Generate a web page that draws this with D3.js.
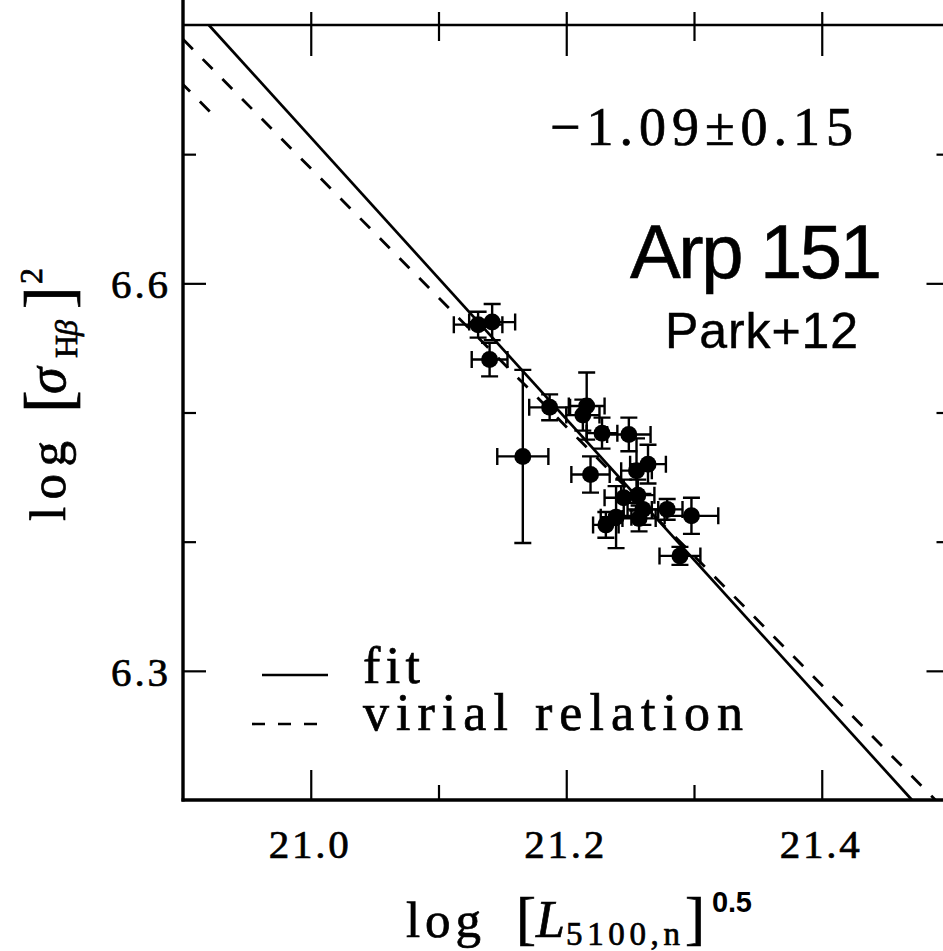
<!DOCTYPE html>
<html><head><meta charset="utf-8">
<script src="https://cdn.jsdelivr.net/npm/d3@7"></script>
<style>body{margin:0;background:#fff}svg{display:block}</style>
</head><body>
<script>
// ---- data ----
const logL   = [21.131,21.142,21.140,21.166,21.187,21.216,21.213,21.228,21.249,21.219,21.255,21.264,21.245,21.256,21.260,21.257,21.239,21.231,21.279,21.298,21.289];
const logS   = [6.568,6.570,6.541,6.466,6.504,6.505,6.498,6.484,6.483,6.452,6.455,6.460,6.434,6.436,6.425,6.418,6.419,6.413,6.425,6.420,6.389];
const errL   = [0.019,0.018,0.014,0.020,0.016,0.014,0.013,0.012,0.017,0.015,0.012,0.014,0.015,0.013,0.012,0.013,0.012,0.010,0.012,0.021,0.016];
const errS   = [0.010,0.014,0.013,0.067,0.010,0.026,0.012,0.012,0.013,0.014,0.025,0.015,0.014,0.012,0.012,0.010,0.024,0.010,0.008,0.014,0.007];
const xMajor = [21.0,21.2,21.4];
const xMinor = [21.1,21.3];
const yMajor = [6.3,6.6];
const yMinor = [6.4,6.5,6.7];
const xTickLabels = ["21.0","21.2","21.4"];
const yTickLabels = ["6.3","6.6"];
const fitSlope = -1.09, fitPivotX = 21.2, fitPivotY = 6.495;
const virSlope = -1.0, virPivotX = 20.9, virPivotY = 6.789;
const vir2PivotY = 6.754, vir2EndX = 20.9235;
const slopeText = "\u22121.09\u00b10.15";

const W = 943, H = 951;
const svg = d3.select("body").append("svg").attr("width",W).attr("height",H);
const x = d3.scaleLinear().domain([20.9,21.5]).range([183,949.5]);
const y = d3.scaleLinear().domain([6.2,6.8]).range([800,25]);
const serif = "'Liberation Serif', serif", sans = "'Liberation Sans', Arial, sans-serif";
const TS = 0.7; // text stroke for weight

// lines
function lineEnds(slope, px, py, x0, x1){
  const f = v => py + slope*(v-px);
  let a = x0, b = x1;
  const [ymin,ymax] = y.domain();
  if (f(a) > ymax) a = px + (ymax-py)/slope;
  if (f(b) < ymin) b = px + (ymin-py)/slope;
  return [[a,f(a)],[b,f(b)]];
}
const ln = d3.line().x(d=>x(d[0])).y(d=>y(d[1]));
svg.append("path").attr("d", ln(lineEnds(fitSlope,fitPivotX,fitPivotY,20.9,21.5)))
  .attr("stroke","#000").attr("stroke-width",2.7).attr("fill","none");
svg.append("path").attr("d", ln(lineEnds(virSlope,virPivotX,virPivotY,20.9,21.5)))
  .attr("stroke","#000").attr("stroke-width",2.8).attr("fill","none").attr("stroke-dasharray","14 14");
svg.append("path").attr("d", ln(lineEnds(virSlope,virPivotX,vir2PivotY,20.9,vir2EndX)))
  .attr("stroke","#000").attr("stroke-width",2.8).attr("fill","none").attr("stroke-dasharray","14 14").attr("stroke-dashoffset",4);

// error bars
const pts = logL.map((v,i)=>({x:v,y:logS[i],ex:errL[i],ey:errS[i]}));
const eb = svg.append("g").attr("stroke","#000").attr("stroke-width",2.4).attr("fill","none");
const cap = 8.5;
pts.forEach(p=>{
  const cx=x(p.x), cy=y(p.y), xl=x(p.x-p.ex), xr=x(p.x+p.ex), yt=y(p.y+p.ey), yb=y(p.y-p.ey);
  eb.append("path").attr("d",`M${xl},${cy}H${xr}M${xl},${cy-cap}V${cy+cap}M${xr},${cy-cap}V${cy+cap}M${cx},${yt}V${yb}M${cx-cap},${yt}H${cx+cap}M${cx-cap},${yb}H${cx+cap}`);
});
svg.append("g").selectAll("circle").data(pts).join("circle")
  .attr("cx",d=>x(d.x)).attr("cy",d=>y(d.y)).attr("r",8.5).attr("fill","#000");

// axes frame
const fr = svg.append("g").attr("stroke","#000").attr("fill","none");
fr.append("line").attr("x1",x(20.9)).attr("x2",x(20.9)).attr("y1",0).attr("y2",y(6.2)+1.5).attr("stroke-width",3.4);
fr.append("line").attr("x1",x(20.9)-1.5).attr("x2",W).attr("y1",y(6.2)).attr("y2",y(6.2)).attr("stroke-width",3.4);
fr.append("line").attr("x1",x(20.9)).attr("x2",W).attr("y1",y(6.8)).attr("y2",y(6.8)).attr("stroke-width",2.6);

function styleAxis(g){ g.select(".domain").remove(); g.selectAll("line").attr("stroke","#000").attr("stroke-width",2.2); g.selectAll("text").remove(); }
svg.append("g").attr("transform",`translate(0,${y(6.2)})`).call(d3.axisBottom(x).tickValues(xMajor).tickSize(-30)).call(styleAxis);
svg.append("g").attr("transform",`translate(0,${y(6.2)})`).call(d3.axisBottom(x).tickValues(xMinor).tickSize(-15)).call(styleAxis);
svg.append("g").attr("transform",`translate(0,${y(6.8)})`).call(d3.axisTop(x).tickValues(xMajor).tickSize(-31)).call(styleAxis);
svg.append("g").attr("transform",`translate(0,${y(6.8)})`).call(d3.axisTop(x).tickValues(xMinor).tickSize(-16)).call(styleAxis);
svg.append("g").attr("transform",`translate(0,${y(6.8)})`).call(d3.axisTop(x).tickValues(xMajor.concat(xMinor)).tickSize(13)).call(styleAxis);
svg.append("g").attr("transform",`translate(${x(20.9)},0)`).call(d3.axisLeft(y).tickValues(yMajor).tickSize(-23)).call(styleAxis);
svg.append("g").attr("transform",`translate(${x(20.9)},0)`).call(d3.axisLeft(y).tickValues(yMinor).tickSize(-13)).call(styleAxis);
svg.append("g").attr("transform",`translate(${x(21.5)},0)`).call(d3.axisRight(y).tickValues(yMajor).tickSize(-23)).call(styleAxis);
svg.append("g").attr("transform",`translate(${x(21.5)},0)`).call(d3.axisRight(y).tickValues(yMinor).tickSize(-13)).call(styleAxis);

// tick labels
svg.append("g").attr("stroke","#000").attr("stroke-width",TS).selectAll("text").data(xMajor).join("text")
  .attr("x",d=>x(d)-2).attr("y",858).attr("text-anchor","middle")
  .attr("font-family",serif).attr("font-size",41).attr("textLength",80).attr("lengthAdjust","spacing")
  .text((d,i)=>xTickLabels[i]);
svg.append("g").attr("stroke","#000").attr("stroke-width",TS).selectAll("text").data(yMajor).join("text")
  .attr("x",168).attr("y",d=>y(d)+15).attr("text-anchor","end")
  .attr("font-family",serif).attr("font-size",41).attr("textLength",57).attr("lengthAdjust","spacing")
  .text((d,i)=>yTickLabels[i]);

// x title
const xt = svg.append("g").attr("font-family",serif).attr("fill","#000").attr("stroke","#000").attr("stroke-width",TS);
xt.append("text").attr("x",406).attr("y",937).attr("font-size",51).attr("textLength",75).attr("lengthAdjust","spacing").text("log");
xt.append("text").attr("x",516).attr("y",938).attr("font-size",60).text("[");
xt.append("text").attr("x",536).attr("y",937).attr("font-size",52).attr("font-style","italic").text("L");
xt.append("text").attr("x",566).attr("y",945).attr("font-size",33).attr("textLength",114).attr("lengthAdjust","spacing").text("5100,n");
xt.append("text").attr("x",685).attr("y",938).attr("font-size",60).text("]");
xt.append("text").attr("x",712).attr("y",912).attr("font-size",29).attr("font-family",sans).attr("font-weight","bold").attr("stroke-width",0).attr("textLength",40).attr("lengthAdjust","spacing").text("0.5");

// y title (rotated)
const yt = svg.append("g").attr("transform","translate(65,0) rotate(-90)").attr("font-family",serif).attr("fill","#000").attr("stroke","#000").attr("stroke-width",TS);
yt.append("text").attr("x",-521).attr("y",0).attr("font-size",51).attr("textLength",80).attr("lengthAdjust","spacing").text("log");
yt.append("text").attr("x",-413).attr("y",6).attr("font-size",68).text("[");
yt.append("text").attr("x",-394).attr("y",0).attr("font-size",54).attr("font-style","italic").text("\u03c3");
yt.append("text").attr("x",-358).attr("y",12).attr("font-size",32).text("H");
yt.append("text").attr("x",-336).attr("y",12).attr("font-size",32).attr("font-style","italic").text("\u03b2");
yt.append("text").attr("x",-309).attr("y",6).attr("font-size",68).text("]");
yt.append("text").attr("x",-284).attr("y",-23).attr("font-size",32).text("2");

// annotations
svg.append("text").attr("x",550).attr("y",145).attr("font-family",serif).attr("font-size",54)
  .attr("stroke","#000").attr("stroke-width",TS)
  .attr("textLength",303).attr("lengthAdjust","spacing").text(slopeText);
svg.append("text").attr("x",630).attr("y",278).attr("font-family",sans).attr("font-size",76)
  .attr("stroke","#000").attr("stroke-width",0.6)
  .attr("textLength",252).attr("lengthAdjust","spacing").text("Arp 151");
svg.append("text").attr("x",665).attr("y",348).attr("font-family",sans).attr("font-size",50)
  .attr("stroke","#000").attr("stroke-width",0.4)
  .attr("textLength",193).attr("lengthAdjust","spacing").text("Park+12");

// legend
const lg = svg.append("g");
lg.append("line").attr("x1",262).attr("x2",328).attr("y1",675).attr("y2",675).attr("stroke","#000").attr("stroke-width",2.6);
lg.append("line").attr("x1",252).attr("x2",317).attr("y1",724).attr("y2",724).attr("stroke","#000").attr("stroke-width",2.6).attr("stroke-dasharray","13 13");
lg.append("text").attr("x",363).attr("y",683).attr("font-family",serif).attr("font-size",52).attr("stroke","#000").attr("stroke-width",TS).attr("textLength",57).attr("lengthAdjust","spacing").text("fit");
lg.append("text").attr("x",363).attr("y",730).attr("font-family",serif).attr("font-size",52).attr("stroke","#000").attr("stroke-width",TS).attr("textLength",380).attr("lengthAdjust","spacing").text("virial relation");
</script>
</body></html>
